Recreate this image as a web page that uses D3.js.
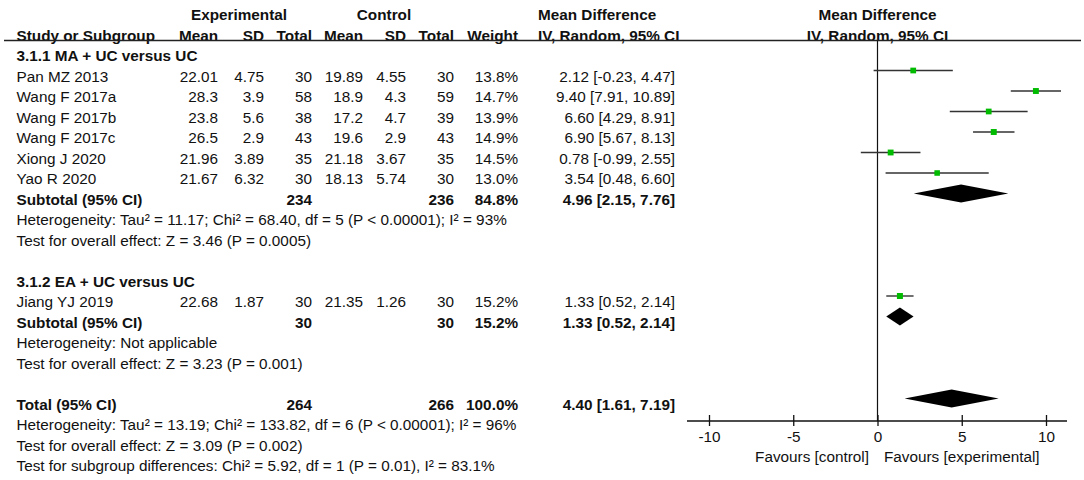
<!DOCTYPE html>
<html lang="en">
<head>
    <meta charset="UTF-8">
    <title>Forest plot - Mean Difference</title>
    <script src="https://d3js.org/d3.v7.min.js"></script>
    <style>
        body { margin: 0; background: #fff; }
        svg text { font-family: "Liberation Sans", Arial, sans-serif; font-size: 15.3px; fill: #111; }
        svg text.b { font-weight: bold; }
    </style>
</head>
<body>
    <div id="chart"></div>
    <script>
        // Study level data
        var studies = ["Pan MZ 2013", "Wang F 2017a", "Wang F 2017b", "Wang F 2017c", "Xiong J 2020", "Yao R 2020", "Jiang YJ 2019"];
        var studyGroup = [0, 0, 0, 0, 0, 0, 1];
        var expMean = ["22.01", "28.3", "23.8", "26.5", "21.96", "21.67", "22.68"];
        var expSD = ["4.75", "3.9", "5.6", "2.9", "3.89", "6.32", "1.87"];
        var expN = [30, 58, 38, 43, 35, 30, 30];
        var ctlMean = ["19.89", "18.9", "17.2", "19.6", "21.18", "18.13", "21.35"];
        var ctlSD = ["4.55", "4.3", "4.7", "2.9", "3.67", "5.74", "1.26"];
        var ctlN = [30, 59, 39, 43, 35, 30, 30];
        var weight = [13.8, 14.7, 13.9, 14.9, 14.5, 13.0, 15.2];
        var md = [2.12, 9.40, 6.60, 6.90, 0.78, 3.54, 1.33];
        var mdLo = [-0.23, 7.91, 4.29, 5.67, -0.99, 0.48, 0.52];
        var mdHi = [4.47, 10.89, 8.91, 8.13, 2.55, 6.60, 2.14];

        // Subgroups and overall
        var groupNames = ["3.1.1 MA + UC versus UC", "3.1.2 EA + UC versus UC"];
        var groupExpN = [234, 30];
        var groupCtlN = [236, 30];
        var groupWeight = [84.8, 15.2];
        var groupMd = [4.96, 1.33];
        var groupLo = [2.15, 0.52];
        var groupHi = [7.76, 2.14];
        var groupHet = ["Heterogeneity: Tau\u00b2 = 11.17; Chi\u00b2 = 68.40, df = 5 (P < 0.00001); I\u00b2 = 93%",
                        "Heterogeneity: Not applicable"];
        var groupTest = ["Test for overall effect: Z = 3.46 (P = 0.0005)",
                         "Test for overall effect: Z = 3.23 (P = 0.001)"];

        var totalExpN = 264, totalCtlN = 266, totalWeight = 100.0;
        var totalMd = 4.40, totalLo = 1.61, totalHi = 7.19;
        var totalNotes = ["Heterogeneity: Tau\u00b2 = 13.19; Chi\u00b2 = 133.82, df = 6 (P < 0.00001); I\u00b2 = 96%",
                          "Test for overall effect: Z = 3.09 (P = 0.002)",
                          "Test for subgroup differences: Chi\u00b2 = 5.92, df = 1 (P = 0.01), I\u00b2 = 83.1%"];

        var axisTicks = [-10, -5, 0, 5, 10];
        var favours = ["Favours [control]", "Favours [experimental]"];

        var width = 1084, height = 480;
        var svg = d3.select("#chart").append("svg")
            .attr("width", width).attr("height", height);

        var rowY = function(i) { return 14.5 + i * 20.5; };
        var markOff = -5.5;
        var axisY = 421;

        // column right edges
        var col = { name: 16.5, eMean: 218, eSD: 264, eN: 312, cMean: 363, cSD: 406, cN: 454, w: 518, ci: 675 };

        var x = d3.scaleLinear().domain([-10, 10]).range([709, 1046]);

        function txt(xp, i, s, anchor, bold) {
            svg.append("text")
                .attr("x", xp).attr("y", rowY(i)).attr("dy", "0.36em")
                .attr("text-anchor", anchor || "start")
                .attr("class", bold ? "b" : null)
                .text(s);
        }
        // plain hyphen minus, like the original
        function fmt2(v) { return d3.format(".2f")(v).replace("\u2212", "-"); }
        function ciText(m, l, h) { return fmt2(m) + " [" + fmt2(l) + ", " + fmt2(h) + "]"; }

        // headers
        txt(239, 0, "Experimental", "middle", true);
        txt(384, 0, "Control", "middle", true);
        txt(538, 0, "Mean Difference", "start", true);
        txt(x(0), 0, "Mean Difference", "middle", true);
        txt(col.name, 1, "Study or Subgroup", "start", true);
        txt(col.eMean, 1, "Mean", "end", true);
        txt(col.eSD, 1, "SD", "end", true);
        txt(col.eN, 1, "Total", "end", true);
        txt(col.cMean, 1, "Mean", "end", true);
        txt(col.cSD, 1, "SD", "end", true);
        txt(col.cN, 1, "Total", "end", true);
        txt(col.w, 1, "Weight", "end", true);
        txt(538, 1, "IV, Random, 95% CI", "start", true);
        txt(x(0), 1, "IV, Random, 95% CI", "middle", true);

        svg.append("line")
            .attr("x1", 4).attr("x2", 1081).attr("y1", 40.5).attr("y2", 40.5)
            .attr("stroke", "#222").attr("stroke-width", 1.3);

        // zero line
        svg.append("line")
            .attr("x1", x(0)).attr("x2", x(0)).attr("y1", 40.5).attr("y2", axisY)
            .attr("stroke", "#111").attr("stroke-width", 1.2);

        var groupStart = [2, 13];
        var sizeScale = d3.scaleSqrt().domain([0, 15.2]).range([0, 6]);

        function diamond(i, m, l, h) {
            var cy = rowY(i) + markOff, hh = 9;
            svg.append("path")
                .attr("d", d3.line()([[x(l), cy], [x(m), cy - hh], [x(h), cy], [x(m), cy + hh]]) + "Z")
                .attr("fill", "#000");
        }

        groupNames.forEach(function(g, gi) {
            var r = groupStart[gi];
            txt(col.name, r, g, "start", true);
            var members = studies.map(function(s, k) { return k; }).filter(function(k) { return studyGroup[k] === gi; });
            members.forEach(function(k, j) {
                var ri = r + 1 + j;
                txt(col.name, ri, studies[k]);
                txt(col.eMean, ri, expMean[k], "end");
                txt(col.eSD, ri, expSD[k], "end");
                txt(col.eN, ri, expN[k], "end");
                txt(col.cMean, ri, ctlMean[k], "end");
                txt(col.cSD, ri, ctlSD[k], "end");
                txt(col.cN, ri, ctlN[k], "end");
                txt(col.w, ri, d3.format(".1f")(weight[k]) + "%", "end");
                txt(col.ci, ri, ciText(md[k], mdLo[k], mdHi[k]), "end");

                var cy = rowY(ri) + markOff;
                svg.append("line")
                    .attr("x1", x(mdLo[k])).attr("x2", x(mdHi[k]))
                    .attr("y1", cy).attr("y2", cy)
                    .attr("stroke", "#333").attr("stroke-width", 1.4);
                var sz = sizeScale(weight[k]);
                svg.append("rect")
                    .attr("x", x(md[k]) - sz / 2).attr("y", cy - sz / 2)
                    .attr("width", sz).attr("height", sz)
                    .attr("fill", "#00bb00");
            });
            var rs = r + 1 + members.length;
            txt(col.name, rs, "Subtotal (95% CI)", "start", true);
            txt(col.eN, rs, groupExpN[gi], "end", true);
            txt(col.cN, rs, groupCtlN[gi], "end", true);
            txt(col.w, rs, d3.format(".1f")(groupWeight[gi]) + "%", "end", true);
            txt(col.ci, rs, ciText(groupMd[gi], groupLo[gi], groupHi[gi]), "end", true);
            diamond(rs, groupMd[gi], groupLo[gi], groupHi[gi]);
            txt(col.name, rs + 1, groupHet[gi]);
            txt(col.name, rs + 2, groupTest[gi]);
        });

        // overall
        var rt = 19;
        txt(col.name, rt, "Total (95% CI)", "start", true);
        txt(col.eN, rt, totalExpN, "end", true);
        txt(col.cN, rt, totalCtlN, "end", true);
        txt(col.w, rt, d3.format(".1f")(totalWeight) + "%", "end", true);
        txt(col.ci, rt, ciText(totalMd, totalLo, totalHi), "end", true);
        diamond(rt, totalMd, totalLo, totalHi);
        totalNotes.forEach(function(s, j) { txt(col.name, rt + 1 + j, s); });

        // axis
        var axis = d3.axisBottom(x).tickValues(axisTicks).tickSize(0).tickPadding(0)
            .tickFormat(function(d) { return String(d); });
        var ag = svg.append("g").attr("transform", "translate(0," + axisY + ")").call(axis);
        ag.select(".domain").remove();
        ag.selectAll(".tick line").attr("y1", -6).attr("y2", 5).attr("stroke", "#111").attr("stroke-width", 1.3);
        ag.selectAll(".tick text").attr("y", 21).attr("dy", 0)
            .style("font-family", "'Liberation Sans', Arial, sans-serif").style("font-size", "15.3px").attr("fill", "#111");
        ag.append("line")
            .attr("x1", 687).attr("x2", 1067).attr("y1", 0).attr("y2", 0)
            .attr("stroke", "#111").attr("stroke-width", 1.3);

        svg.append("text").attr("x", 869).attr("y", 462).attr("text-anchor", "end").text(favours[0]);
        svg.append("text").attr("x", 884).attr("y", 462).attr("text-anchor", "start").text(favours[1]);
    </script>
</body>
</html>
